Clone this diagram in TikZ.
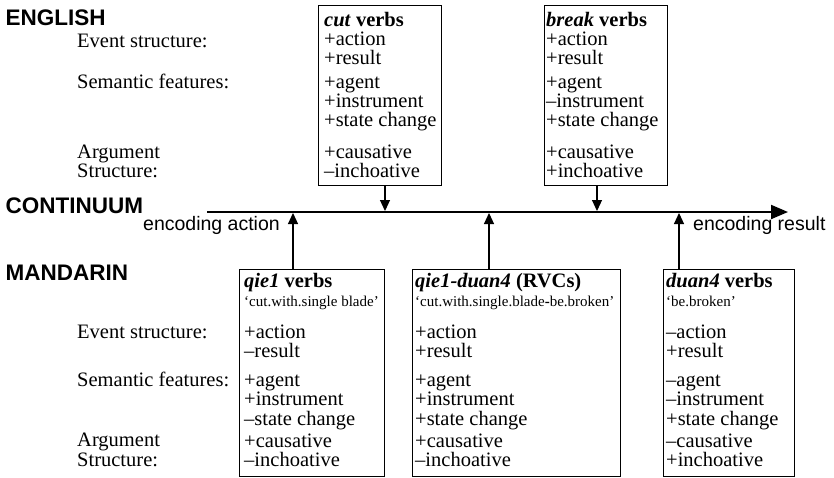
\documentclass[tikz,border=0pt]{standalone}
\usepackage{fontspec}
\setmainfont{Liberation Serif}
\setsansfont{Liberation Sans}
\usetikzlibrary{arrows.meta}
\begin{document}
\begin{tikzpicture}[x=1pt,y=-1pt,
  box/.style={draw, line width=1.1pt, inner sep=0pt, anchor=north west},
  txt/.style={inner sep=0pt, anchor=base west, font=\fontsize{20.5}{19}\selectfont},
  gloss/.style={inner sep=0pt, anchor=base west, font=\fontsize{15}{16}\selectfont},
  head/.style={inner sep=0pt, anchor=base west, font=\sffamily\bfseries\fontsize{22.5}{24}\selectfont},
  enc/.style={inner sep=0pt, anchor=base west, font=\sffamily\fontsize{19.5}{22}\selectfont},
  conn/.style={line width=1.1pt, -{Triangle[length=11pt,width=10pt]}},
  axis/.style={line width=2pt, -{Triangle[length=17pt,width=14pt]}},
]
\useasboundingbox (0,0) rectangle (834,477);

% headings
\node[head] (english) at (5.5,25) {ENGLISH};
\node[head] (continuum) at (5.5,213) {CONTINUUM};
\node[head] (mandarin) at (5.5,280) {MANDARIN};

% left labels (English)
\node[txt] (eES) at (77,47) {Event structure:};
\node[txt] (eSF) at (77,88) {Semantic features:};
\node[txt] (eAS1) at (77,158) {Argument};
\node[txt] (eAS2) at (77,177) {Structure:};

% left labels (Mandarin)
\node[txt] (mES) at (77,338) {Event structure:};
\node[txt] (mSF) at (77,386) {Semantic features:};
\node[txt] (mAS1) at (77,446) {Argument};
\node[txt] (mAS2) at (77,466) {Structure:};

% top boxes
\node[box, minimum width=123pt, minimum height=180pt] (cut) at (318,5) {};
\node[box, minimum width=123pt, minimum height=180pt] (break) at (544,5) {};

\node[txt] (cut1) at (324,26) {\textbf{\textit{cut} verbs}};
\node[txt] (cut2) at (324,45) {+action};
\node[txt] (cut3) at (324,64) {+result};
\node[txt] (cut4) at (324,88) {+agent};
\node[txt] (cut5) at (324,107) {+instrument};
\node[txt] (cut6) at (324,126) {+state change};
\node[txt] (cut7) at (324,158) {+causative};
\node[txt] (cut8) at (324,177) {–inchoative};

\node[txt] (brk1) at (546,26) {\textbf{\textit{break} verbs}};
\node[txt] (brk2) at (546,45) {+action};
\node[txt] (brk3) at (546,64) {+result};
\node[txt] (brk4) at (546,88) {+agent};
\node[txt] (brk5) at (546,107) {–instrument};
\node[txt] (brk6) at (546,126) {+state change};
\node[txt] (brk7) at (546,158) {+causative};
\node[txt] (brk8) at (546,177) {+inchoative};

% bottom boxes
\node[box, minimum width=145pt, minimum height=207pt] (qie) at (239,268.5) {};
\node[box, minimum width=208pt, minimum height=207pt] (rvc) at (412,268.5) {};
\node[box, minimum width=131pt, minimum height=207pt] (duan) at (663,268.5) {};

\node[txt] (qie1) at (244,287) {\textbf{\textit{qie1} verbs}};
\node[gloss] (qie2) at (244,306) {‘cut.with.single blade’};
\node[txt] (qie3) at (244,338) {+action};
\node[txt] (qie4) at (244,357) {–result};
\node[txt] (qie5) at (244,386) {+agent};
\node[txt] (qie6) at (244,405) {+instrument};
\node[txt] (qie7) at (244,425) {–state change};
\node[txt] (qie8) at (244,447) {+causative};
\node[txt] (qie9) at (244,466) {–inchoative};

\node[txt] (rvc1) at (415,287) {\textbf{\textit{qie1-duan4} (RVCs)}};
\node[gloss] (rvc2) at (415,306) {‘cut.with.single.blade\textbf{-}be.broken’};
\node[txt] (rvc3) at (415,338) {+action};
\node[txt] (rvc4) at (415,357) {+result};
\node[txt] (rvc5) at (415,386) {+agent};
\node[txt] (rvc6) at (415,405) {+instrument};
\node[txt] (rvc7) at (415,425) {+state change};
\node[txt] (rvc8) at (415,447) {+causative};
\node[txt] (rvc9) at (415,466) {–inchoative};

\node[txt] (dua1) at (666,287) {\textbf{\textit{duan4} verbs}};
\node[gloss] (dua2) at (666,306) {‘be.broken’};
\node[txt] (dua3) at (666,338) {–action};
\node[txt] (dua4) at (666,357) {+result};
\node[txt] (dua5) at (666,386) {–agent};
\node[txt] (dua6) at (666,405) {–instrument};
\node[txt] (dua7) at (666,425) {+state change};
\node[txt] (dua8) at (666,447) {–causative};
\node[txt] (dua9) at (666,466) {+inchoative};

% continuum axis
\coordinate (axL) at (207,212);
\coordinate (axR) at (788,212);
\draw[axis] (axL) -- (axR);
\node[enc] (encA) at (143,230) {encoding action};
\node[enc] (encR) at (693,230) {encoding result};

% connectors
\coordinate (d1) at (385,211);
\coordinate (d2) at (597,211);
\coordinate (u1) at (293,213);
\coordinate (u2) at (489,213);
\coordinate (u3) at (679,213);
\draw[conn] (cut.south -| d1) -- (d1);
\draw[conn] (break.south -| d2) -- (d2);
\draw[conn] (qie.north -| u1) -- (u1);
\draw[conn] (rvc.north -| u2) -- (u2);
\draw[conn] (duan.north -| u3) -- (u3);
\end{tikzpicture}
\end{document}
